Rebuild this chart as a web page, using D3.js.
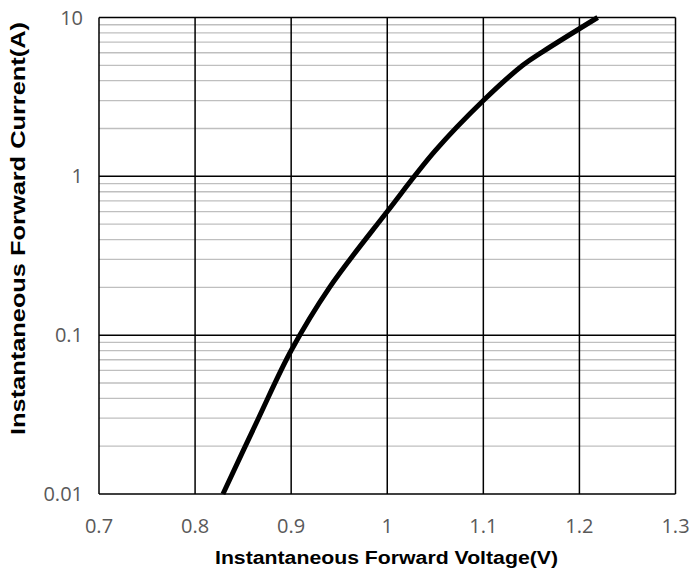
<!DOCTYPE html>
<html><head><meta charset="utf-8">
<script src="https://cdn.jsdelivr.net/npm/d3@7"></script>
<style>body{margin:0;background:#fff}svg{display:block}</style>
</head><body>
<svg id="c" width="692" height="576"></svg>
<script>
const voltage = [0.829, 0.866, 0.900, 0.940, 1.000, 1.050, 1.100, 1.141, 1.162, 1.219];
const current = [0.01, 0.03, 0.08, 0.2, 0.6, 1.45, 3, 5, 6.1, 10];
const xTicks = [0.7, 0.8, 0.9, 1.0, 1.1, 1.2, 1.3];
const yTicks = [0.01, 0.1, 1, 10];
const xTitle = "Instantaneous Forward Voltage(V)";
const yTitle = "Instantaneous Forward Current(A)";

const svg = d3.select("#c");
const L = 99, R = 675.5, T = 17.5, B = 494;
const x = d3.scaleLinear().domain([0.7, 1.3]).range([L, R]);
const y = d3.scaleLog().domain([0.01, 10]).range([B, T]);

// minor gridlines
const minor = [];
[0.01, 0.1, 1].forEach(d => { for (let k = 2; k <= 9; k++) minor.push(d * k); });
svg.append("g").selectAll("line").data(minor).join("line")
  .attr("x1", L).attr("x2", R).attr("y1", d => y(d)).attr("y2", d => y(d))
  .attr("stroke", "#bfbfbf").attr("stroke-width", 1.3);

// major horizontal
svg.append("g").selectAll("line").data(yTicks).join("line")
  .attr("x1", L).attr("x2", R).attr("y1", d => y(d)).attr("y2", d => y(d))
  .attr("stroke", "#000").attr("stroke-width", 1.5);
// major vertical
svg.append("g").selectAll("line").data(xTicks).join("line")
  .attr("y1", T).attr("y2", B).attr("x1", d => x(d)).attr("x2", d => x(d))
  .attr("stroke", "#000").attr("stroke-width", 1.5);

// curve
const pts = voltage.map((v, i) => [v, current[i]]);
svg.append("path").datum(pts)
  .attr("d", d3.line().x(d => x(d[0])).y(d => y(d[1])).curve(d3.curveCatmullRom.alpha(0.5)))
  .attr("fill", "none").attr("stroke", "#000").attr("stroke-width", 5)
  .attr("stroke-linejoin", "round");

// tick labels
const tf = "'Open Sans', sans-serif";
svg.append("g").selectAll("text").data(xTicks).join("text")
  .attr("x", d => x(d)).attr("y", 533).attr("text-anchor", "middle")
  .attr("font-family", tf).attr("font-size", 20).attr("fill", "#595959")
  .text(d => String(+d.toFixed(1)));
svg.append("g").selectAll("text").data(yTicks).join("text")
  .attr("x", 83).attr("y", d => y(d)).attr("dy", "0.35em").attr("text-anchor", "end")
  .attr("font-family", tf).attr("font-size", 20).attr("fill", "#595959")
  .text(d => String(d));

// titles
svg.append("text").attr("x", 386.5).attr("y", 564).attr("text-anchor", "middle")
  .attr("font-family", "'Liberation Sans', Arial, sans-serif").attr("font-weight", "bold")
  .attr("font-size", 17.5).attr("textLength", 343).attr("lengthAdjust", "spacingAndGlyphs")
  .text(xTitle);
svg.append("text").attr("transform", "translate(25,228.5) rotate(-90)").attr("text-anchor", "middle")
  .attr("font-family", "'Liberation Sans', Arial, sans-serif").attr("font-weight", "bold")
  .attr("font-size", 20.5).attr("textLength", 413).attr("lengthAdjust", "spacingAndGlyphs")
  .text(yTitle);
</script>
</body></html>
